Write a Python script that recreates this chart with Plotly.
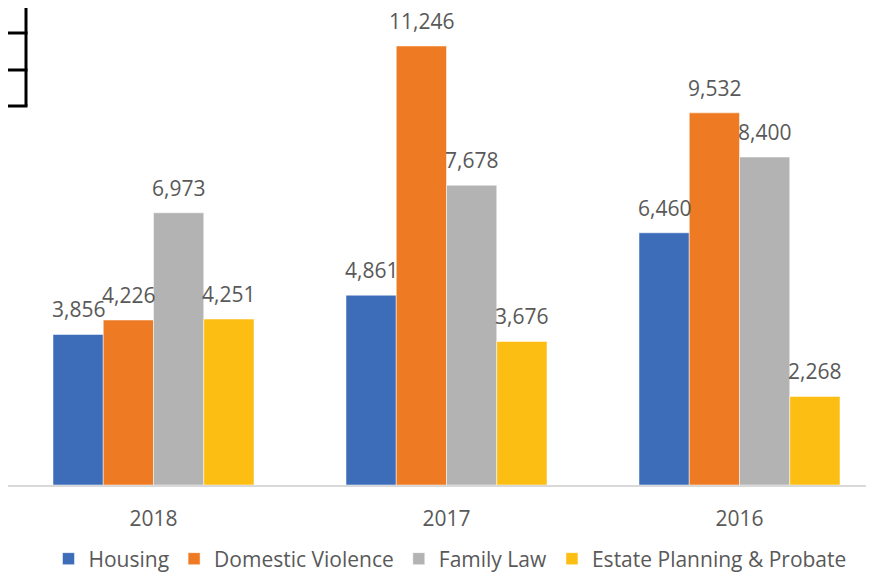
import plotly.graph_objects as go

years = ["2018", "2017", "2016"]
housing = [3856, 4861, 6460]
domestic_violence = [4226, 11246, 9532]
family_law = [6973, 7678, 8400]
estate_probate = [4251, 3676, 2268]

series = [
    ("Housing", housing, "#3D6DB9"),
    ("Domestic Violence", domestic_violence, "#EE7B24"),
    ("Family Law", family_law, "#B3B3B3"),
    ("Estate Planning & Probate", estate_probate, "#FDBE13"),
]

# page body has an 8px margin; figure sized so the page is 874x573
OFF = 8
W, H = 874 - OFF, 573 - OFF
ML, MR, MT, MB = 0, 0, 0, 88
plot_w = W - ML - MR
plot_h = H - MT - MB

BARGAP = 0.314
TXT = "#595959"

fig = go.Figure()
n = len(series)
bw = (1 - BARGAP) / n
annotations = []
for k, (name, vals, col) in enumerate(series):
    fig.add_trace(go.Bar(
        name=name, x=years, y=vals,
        marker=dict(color=col, line=dict(color="white", width=0.5)),
    ))
    off = (k - (n - 1) / 2) * bw
    for i, v in enumerate(vals):
        annotations.append(dict(
            x=i + off, y=v, xref="x", yref="y", text=f"{v:,}", showarrow=False,
            yanchor="bottom", xanchor="center", yshift=9,
            font=dict(family="Open Sans", size=21, color=TXT),
        ))

def px_x(p):  # reference page pixel -> paper
    return (p - OFF - ML) / plot_w

def px_y(p):
    return (MT + plot_h - (p - OFF)) / plot_h

shapes = [
    dict(type="line", xref="paper", yref="paper", x0=px_x(26), x1=px_x(26), y0=px_y(0), y1=px_y(106),
         line=dict(color="black", width=3)),
]
for yy in [33, 70, 106]:
    shapes.append(dict(type="line", xref="paper", yref="paper", x0=px_x(0), x1=px_x(27.5), y0=px_y(yy), y1=px_y(yy),
                       line=dict(color="black", width=3)))

cat_px = 293.0
first_center = 153.5 - OFF
range_left = -first_center / cat_px
range_right = range_left + plot_w / cat_px

fig.update_layout(
    width=W, height=H,
    margin=dict(l=ML, r=MR, t=MT, b=MB, autoexpand=False),
    paper_bgcolor="white", plot_bgcolor="white",
    barmode="group", bargap=BARGAP, bargroupgap=0,
    font=dict(family="Open Sans", color=TXT),
    xaxis=dict(range=[range_left, range_right], showline=True, linecolor="#D9D9D9", linewidth=2,
               ticks="", tickfont=dict(size=21, color=TXT), ticklabelstandoff=14, showgrid=False),
    yaxis=dict(range=[0, plot_h / 0.03904], visible=False, showgrid=False, zeroline=False),
    legend=dict(orientation="h", x=px_x(450), xanchor="center", y=px_y(559), yanchor="middle",
                font=dict(size=21, color=TXT), itemwidth=30, traceorder="normal"),
    shapes=shapes,
    annotations=annotations,
    showlegend=True,
)

fig.write_html("out.html")
